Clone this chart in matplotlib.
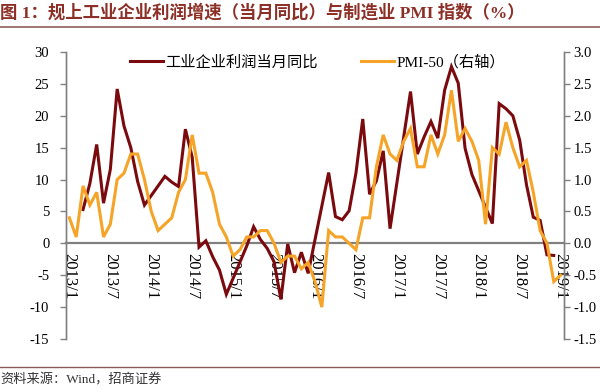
import numpy as np
import matplotlib
matplotlib.use("Agg")
import matplotlib.pyplot as plt
from matplotlib.lines import Line2D

plt.rcParams['axes.unicode_minus'] = False

nan = np.nan
# monthly categories 2013/1 .. 2019/1 (73 months)
tick_labels = ['2013/1', '2013/7', '2014/1', '2014/7', '2015/1', '2015/7', '2016/1',
               '2016/7', '2017/1', '2017/7', '2018/1', '2018/7', '2019/1']

# 工业企业利润当月同比 (%), Jan/Feb not published separately
profit_yoy = [
    nan, nan, 5.3, 9.4, 15.5, 6.3, 11.6, 24.2, 18.4, 15.0, 9.7, 6.0,      # 2013
    nan, nan, 10.5, 9.6, 8.9, 17.9, 13.5, -0.6, 0.4, -2.1, -4.2, -8.0,    # 2014
    nan, nan, -0.4, 2.6, 0.6, -0.8, -2.9, -8.8, -0.1, -4.6, -1.4, -4.7,   # 2015
    nan, nan, 11.1, 4.2, 3.7, 5.1, 11.0, 19.5, 7.7, 9.8, 14.5, 2.3,       # 2016
    nan, nan, 23.8, 14.0, 16.7, 19.1, 16.5, 24.0, 27.7, 25.1, 14.9, 10.8, # 2017
    nan, nan, 3.1, 21.9, 21.1, 20.0, 16.2, 9.2, 4.1, 3.6, -1.8, -1.9,     # 2018
    nan,                                                                 # 2019/1
]

# PMI-50 (右轴)
pmi_minus_50 = [
    0.4, 0.1, 0.9, 0.6, 0.8, 0.1, 0.3, 1.0, 1.1, 1.4, 1.4, 1.0,        # 2013
    0.5, 0.2, 0.3, 0.4, 0.8, 1.0, 1.7, 1.1, 1.1, 0.8, 0.3, 0.1,        # 2014
    -0.2, -0.1, 0.1, 0.1, 0.2, 0.2, 0.0, -0.3, -0.2, -0.2, -0.4, -0.3, # 2015
    -0.6, -1.0, 0.2, 0.1, 0.1, 0.0, -0.1, 0.4, 0.4, 1.2, 1.7, 1.4,     # 2016
    1.3, 1.6, 1.8, 1.2, 1.2, 1.7, 1.4, 1.7, 2.4, 1.6, 1.8, 1.6,        # 2017
    1.3, 0.3, 1.5, 1.4, 1.9, 1.5, 1.2, 1.3, 0.8, 0.2, 0.0, -0.6,       # 2018
    -0.5,                                                             # 2019/1
]

left_ticks = [30, 25, 20, 15, 10, 5, 0, -5, -10, -15]
right_ticks = [3.0, 2.5, 2.0, 1.5, 1.0, 0.5, 0.0, -0.5, -1.0, -1.5]

RED = '#7A0A0E'
ORANGE = '#F5A428'
GRAY = '#808080'
SERIF_CJK = ['Liberation Serif', 'Noto Sans CJK SC']

fig = plt.figure(figsize=(6.0, 3.92), dpi=100)
ax = fig.add_axes([66/600, 1 - 339/392, (564 - 66)/600, (339 - 52)/392])
ax2 = ax.twinx()

n = len(pmi_minus_50)
x = np.arange(n)
p = np.array(profit_yoy, dtype=float)
m = ~np.isnan(p)

for a in (ax, ax2):
    a.spines['top'].set_visible(False)
    a.spines['left'].set_color(GRAY)
    a.spines['right'].set_color(GRAY)
    a.spines['left'].set_linewidth(1.0)
    a.spines['right'].set_linewidth(1.0)
    a.patch.set_visible(False)
ax2.spines['bottom'].set_visible(False)
ax.spines['bottom'].set_position(('data', 0))
ax.spines['bottom'].set_color(GRAY)
ax.spines['bottom'].set_linewidth(1.6)
ax.spines['bottom'].set_zorder(2)

ax.plot(x[m], p[m], color=RED, lw=2.2, solid_joinstyle='miter', zorder=3)
ax2.plot(x, pmi_minus_50, color=ORANGE, lw=2.2, solid_joinstyle='miter', zorder=3)

ax.set_xlim(-0.5, n - 0.5)
ax.set_ylim(-15, 30)
ax2.set_ylim(-1.5, 3.0)

ax.set_yticks(left_ticks)
ax.set_yticklabels([str(v) for v in left_ticks], family=SERIF_CJK, fontsize=10.5)
ax2.set_yticks(right_ticks)
ax2.set_yticklabels(['%.1f' % v for v in right_ticks], family=SERIF_CJK, fontsize=10.5)

ax.set_xticks(np.arange(0, n, 6))
ax.set_xticklabels(tick_labels, rotation=-90, va='top', ha='center',
                   family=SERIF_CJK, fontsize=12)

ax.tick_params(axis='y', direction='out', length=4, color=GRAY, width=1.0, pad=8)
ax2.tick_params(axis='y', direction='out', length=4, color=GRAY, width=1.0, pad=3)
ax.tick_params(axis='x', length=0, pad=7)

handles = [Line2D([], [], color=RED, lw=2.2), Line2D([], [], color=ORANGE, lw=2.2)]
leg = ax.legend(handles, ['工业企业利润当月同比', 'PMI-50（右轴）'], ncol=2, loc='center',
                bbox_to_anchor=(0.505, 0.965), frameon=False, handlelength=2.2,
                handletextpad=0.15, columnspacing=2.8,
                prop={'family': SERIF_CJK, 'size': 11})

fig.text(0.0, 1 - 13/392, '图 1：规上工业企业利润增速（当月同比）与制造业 PMI 指数（%）',
         ha='left', va='center', fontsize=12.5, fontweight='bold', color='#8C2F26',
         family=SERIF_CJK)
fig.add_artist(Line2D([0, 1], [1 - 27/392, 1 - 27/392], color='#8E5B5B', lw=1.2,
                      transform=fig.transFigure))
fig.add_artist(Line2D([0, 1], [1 - 367/392, 1 - 367/392], color='#8E5B5B', lw=1.0,
                      transform=fig.transFigure))
fig.text(0.0, 1 - 380/392, '资料来源：Wind，招商证券', ha='left', va='center',
         fontsize=9.5, color='#333333', family=SERIF_CJK)

fig.savefig('out.png', dpi=100)
